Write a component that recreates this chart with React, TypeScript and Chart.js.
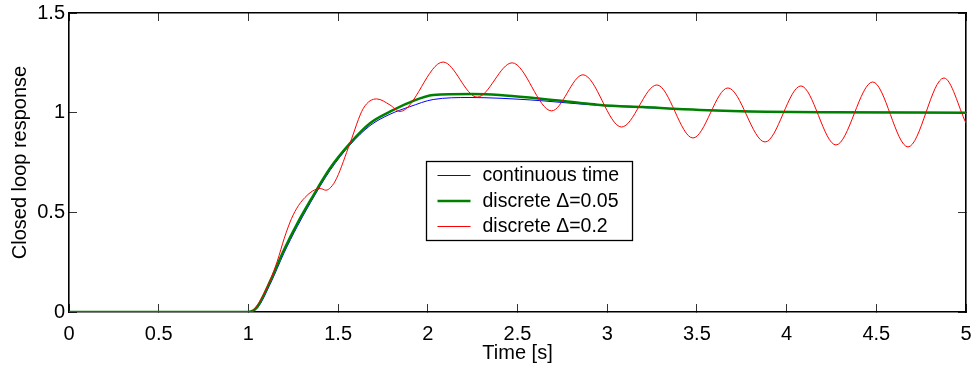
import React, { useEffect, useRef } from 'react';
import { Chart, registerables } from 'chart.js';

Chart.register(...registerables);

// ---- data ----
const tBlue = [0, 1.0, 1.05, 1.124, 1.198, 1.273, 1.347, 1.455, 1.566, 1.678, 1.789, 1.9, 2.03, 2.235, 2.57, 2.737, 2.96, 3.35, 3.91, 4.5, 5.0];
const yBlue = [0, 0, 0.02, 0.145, 0.295, 0.43, 0.55, 0.71, 0.838, 0.935, 0.992, 1.03, 1.066, 1.076, 1.064, 1.052, 1.036, 1.02, 1.004, 1.0, 1.0];

const tGreen = [0, 1.0, 1.05, 1.124, 1.198, 1.273, 1.347, 1.455, 1.566, 1.678, 1.789, 1.9, 2.03, 2.25, 2.4, 2.59, 2.85, 2.96, 3.2, 3.517, 3.89, 4.26, 5.0];
const yGreen = [0, 0, 0.027, 0.16, 0.311, 0.445, 0.562, 0.721, 0.846, 0.947, 1.005, 1.052, 1.089, 1.094, 1.089, 1.074, 1.049, 1.039, 1.028, 1.014, 1.005, 1.002, 1.0];

const tRed = [0, 1.0, 1.013, 1.05, 1.087, 1.124, 1.161, 1.2, 1.24, 1.28, 1.327, 1.37, 1.4, 1.432, 1.46, 1.492, 1.566, 1.641, 1.715, 1.789, 1.845, 2.085, 2.275, 2.47, 2.69, 2.865, 3.08, 3.277, 3.478, 3.673, 3.88, 4.08, 4.275, 4.48, 4.677, 4.877, 5.0];
const yRed = [0, 0, 0, 0.035, 0.094, 0.165, 0.255, 0.37, 0.468, 0.535, 0.585, 0.613, 0.62, 0.611, 0.626, 0.671, 0.846, 1.022, 1.069, 1.039, 1.006, 1.254, 1.078, 1.25, 1.009, 1.19, 0.928, 1.139, 0.873, 1.124, 0.853, 1.134, 0.838, 1.154, 0.828, 1.174, 0.948];

const xTickValues = [0, 0.5, 1, 1.5, 2, 2.5, 3, 3.5, 4, 4.5, 5];
const xTickLabels = ['0', '0.5', '1', '1.5', '2', '2.5', '3', '3.5', '4', '4.5', '5'];
const yTickValues = [0, 0.5, 1, 1.5];
const yTickLabels = ['0', '0.5', '1', '1.5'];

const seriesLabels = ['continuous time', 'discrete \u0394=0.05', 'discrete \u0394=0.2'];
const seriesColors = ['#0000ff', '#008000', '#ff0000'];
const seriesWidths = [1, 2.5, 1];

const xTitle = 'Time [s]';
const yTitle = 'Closed loop response';

const X_MIN = 0;
const X_MAX = 5;
const Y_MIN = 0;
const Y_MAX = 1.5;

const FONT = '"Liberation Sans", Arial, Helvetica, sans-serif';
const TICK_IN = -8; // negative tick length: ticks point into the plot

function pts(t: number[], y: number[]) {
  return t.map((v, i) => ({ x: v, y: y[i] }));
}

function drawLegend(chart: any) {
  const ctx = chart.ctx;
  const sx = chart.scales.x;
  const sy = chart.scales.y;
  const bx = Math.round(sx.getPixelForValue(1.99)) + 0.5;
  const by = Math.round(sy.getPixelForValue(0.758)) + 0.5;
  const bw = 206;
  const bh = 79;
  ctx.save();
  ctx.fillStyle = '#fff';
  ctx.fillRect(bx, by, bw, bh);
  ctx.strokeStyle = '#000';
  ctx.lineWidth = 1.3;
  ctx.strokeRect(bx, by, bw, bh);
  ctx.font = `19.5px ${FONT}`;
  ctx.textBaseline = 'alphabetic';
  ctx.textAlign = 'left';
  seriesLabels.forEach((lab, i) => {
    const ry = by + 14 + i * 25.5;
    ctx.strokeStyle = seriesColors[i];
    ctx.lineWidth = seriesWidths[i];
    ctx.beginPath();
    ctx.moveTo(bx + 11, ry);
    ctx.lineTo(bx + 44, ry);
    ctx.stroke();
    ctx.fillStyle = '#000';
    ctx.fillText(lab, bx + 56, ry + 5.5);
  });
  ctx.restore();
}

const legendPlugin = {
  id: 'boxedLegend',
  afterDraw(chart: any) {
    drawLegend(chart);
  },
};

const frameGrid = {
  display: true,
  drawOnChartArea: false,
  drawTicks: true,
  tickLength: TICK_IN,
  tickColor: '#333',
  tickWidth: 1,
};

const frameBorder = { display: true, color: '#000', width: 1.6 };

export default function App() {
  const canvasRef = useRef<HTMLCanvasElement | null>(null);

  useEffect(() => {
    document.body.style.margin = '0';
    const canvas = canvasRef.current;
    if (!canvas) return;
    const chart = new Chart(canvas, {
      type: 'line',
      data: {
        datasets: [
          {
            label: seriesLabels[0],
            data: pts(tBlue, yBlue),
            borderColor: seriesColors[0],
            borderWidth: seriesWidths[0],
            pointRadius: 0,
            cubicInterpolationMode: 'monotone',
            order: 3,
          },
          {
            label: seriesLabels[1],
            data: pts(tGreen, yGreen),
            borderColor: seriesColors[1],
            borderWidth: seriesWidths[1],
            pointRadius: 0,
            cubicInterpolationMode: 'monotone',
            order: 2,
          },
          {
            label: seriesLabels[2],
            data: pts(tRed, yRed),
            borderColor: seriesColors[2],
            borderWidth: seriesWidths[2],
            pointRadius: 0,
            cubicInterpolationMode: 'monotone',
            order: 1,
          },
        ],
      },
      options: {
        animation: false,
        responsive: true,
        maintainAspectRatio: false,
        layout: { padding: { left: 0, right: 8, top: 13, bottom: 0 } },
        plugins: {
          legend: { display: false },
          tooltip: { enabled: false },
        },
        scales: {
          x: {
            type: 'linear',
            position: 'bottom',
            min: X_MIN,
            max: X_MAX,
            afterBuildTicks: (s: any) => {
              s.ticks = xTickValues.map((v) => ({ value: v }));
            },
            afterFit: (s: any) => {
              s.height = 54;
              s.paddingLeft = 0;
              s.paddingRight = 0;
            },
            grid: frameGrid,
            border: frameBorder,
            ticks: {
              autoSkip: false,
              maxRotation: 0,
              padding: 10 - TICK_IN,
              color: '#000',
              font: { family: FONT, size: 20 },
              callback: (v: any) => {
                const i = xTickValues.indexOf(Number(v));
                return i >= 0 ? xTickLabels[i] : '';
              },
            },
            title: {
              display: true,
              text: xTitle,
              color: '#000',
              font: { family: FONT, size: 20 },
              padding: { top: 0, bottom: 1 },
            },
          },
          x2: {
            type: 'linear',
            position: 'top',
            min: X_MIN,
            max: X_MAX,
            afterBuildTicks: (s: any) => {
              s.ticks = xTickValues.map((v) => ({ value: v }));
            },
            afterFit: (s: any) => {
              s.height = 0;
              s.paddingLeft = 0;
              s.paddingRight = 0;
            },
            grid: frameGrid,
            border: frameBorder,
            ticks: { display: false },
          },
          y: {
            type: 'linear',
            position: 'left',
            min: Y_MIN,
            max: Y_MAX,
            afterBuildTicks: (s: any) => {
              s.ticks = yTickValues.map((v) => ({ value: v }));
            },
            afterFit: (s: any) => {
              s.width = 69;
              s.paddingTop = 0;
              s.paddingBottom = 0;
            },
            grid: frameGrid,
            border: frameBorder,
            ticks: {
              autoSkip: false,
              padding: 4 - TICK_IN,
              color: '#000',
              font: { family: FONT, size: 20 },
              callback: (v: any) => {
                const i = yTickValues.indexOf(Number(v));
                return i >= 0 ? yTickLabels[i] : '';
              },
            },
            title: {
              display: true,
              text: yTitle,
              color: '#000',
              font: { family: FONT, size: 20 },
              padding: { top: 8, bottom: 0 },
            },
          },
          y2: {
            type: 'linear',
            position: 'right',
            min: Y_MIN,
            max: Y_MAX,
            afterBuildTicks: (s: any) => {
              s.ticks = yTickValues.map((v) => ({ value: v }));
            },
            afterFit: (s: any) => {
              s.width = 0;
              s.paddingTop = 0;
              s.paddingBottom = 0;
            },
            grid: frameGrid,
            border: frameBorder,
            ticks: { display: false },
          },
        },
      },
      plugins: [legendPlugin],
    });
    return () => chart.destroy();
  }, []);

  return (
    <div style={{ position: 'relative', width: 974, height: 366 }}>
      <canvas ref={canvasRef} />
    </div>
  );
}
